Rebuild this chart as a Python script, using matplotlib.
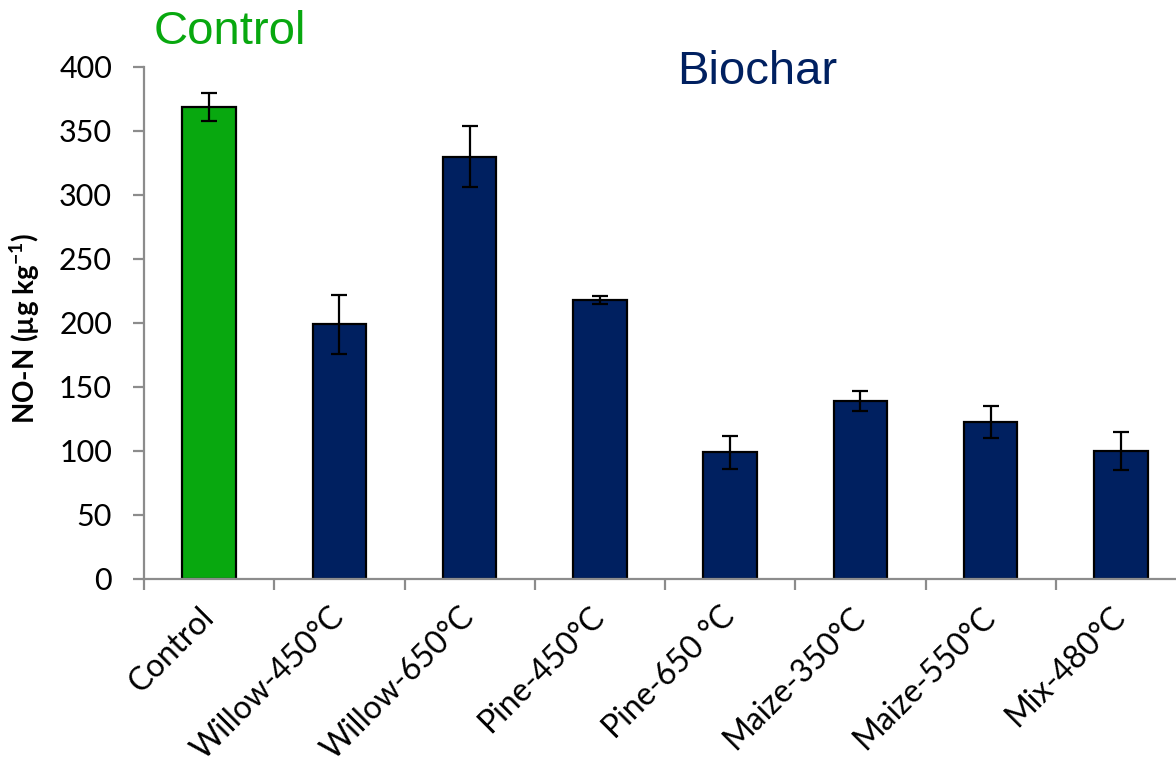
import matplotlib
matplotlib.use("Agg")
import matplotlib.pyplot as plt
import numpy as np

# NO-N content per treatment, mean and standard error
categories = ["Control", "Willow-450°C", "Willow-650°C", "Pine-450°C",
              "Pine-650 °C", "Maize-350°C", "Maize-550°C", "Mix-480°C"]
values = [369, 199, 330, 218, 99, 139, 123, 100]
errors = [11, 23, 24, 3, 13, 8, 12.5, 14.5]
yticks = [0, 50, 100, 150, 200, 250, 300, 350, 400]

GREEN = "#08a80f"
NAVY = "#002060"
SPINE = "#8c8c8c"
colors = [GREEN] + [NAVY] * (len(categories) - 1)

plt.rcParams["font.family"] = ["Lato", "DejaVu Sans"]
plt.rcParams["mathtext.fontset"] = "custom"
plt.rcParams["mathtext.rm"] = "Lato"
plt.rcParams["mathtext.bf"] = "Lato:bold"

fig = plt.figure(figsize=(11.76, 7.6), dpi=100)
ax = fig.add_axes([144 / 1176, 181 / 760, 1042 / 1176, 512 / 760])

x = np.arange(len(categories))
ax.bar(x, values, width=0.41, color=colors, edgecolor="black", linewidth=1.6,
       zorder=2)
ax.errorbar(x, values, yerr=errors, fmt="none", ecolor="black",
            elinewidth=1.6, capsize=5.5, capthick=1.6, zorder=3)

ax.set_xlim(-0.5, len(categories) - 0.5)
ax.set_ylim(0, 400)
ax.set_yticks(yticks)
ax.set_yticklabels([str(v) for v in yticks], fontsize=22)

# tick marks sit on the category boundaries, labels under the bars
ax.set_xticks(np.arange(len(categories) + 1) - 0.5)
ax.set_xticklabels([])
ax.set_xticks(x, minor=True)
ax.set_xticklabels(categories, minor=True, rotation=45, ha="right",
                   va="center", rotation_mode="anchor", fontsize=23)
ax.tick_params(axis="x", which="minor", length=0, pad=24)
ax.tick_params(axis="x", which="major", length=8, width=1.6, color=SPINE,
               direction="out")
ax.tick_params(axis="y", length=8, width=1.6, color=SPINE, direction="out",
               pad=15)

for side in ("top", "right"):
    ax.spines[side].set_visible(False)
for side in ("left", "bottom"):
    ax.spines[side].set_color(SPINE)
    ax.spines[side].set_linewidth(1.6)

ax.set_ylabel("NO-N (µg kg$^{\\mathbf{-1}}$)", fontsize=20, fontweight="bold")
ax.yaxis.set_label_coords(-0.098, 0.49)

fig.text(230 / 1176, 1 - 32 / 760, "Control", color=GREEN, fontsize=34,
         family="Liberation Sans", ha="center", va="center")
fig.text(757 / 1176, 1 - 72 / 760, "Biochar", color=NAVY, fontsize=34,
         family="Liberation Sans", ha="center", va="center")

fig.savefig("out.png", dpi=100)
